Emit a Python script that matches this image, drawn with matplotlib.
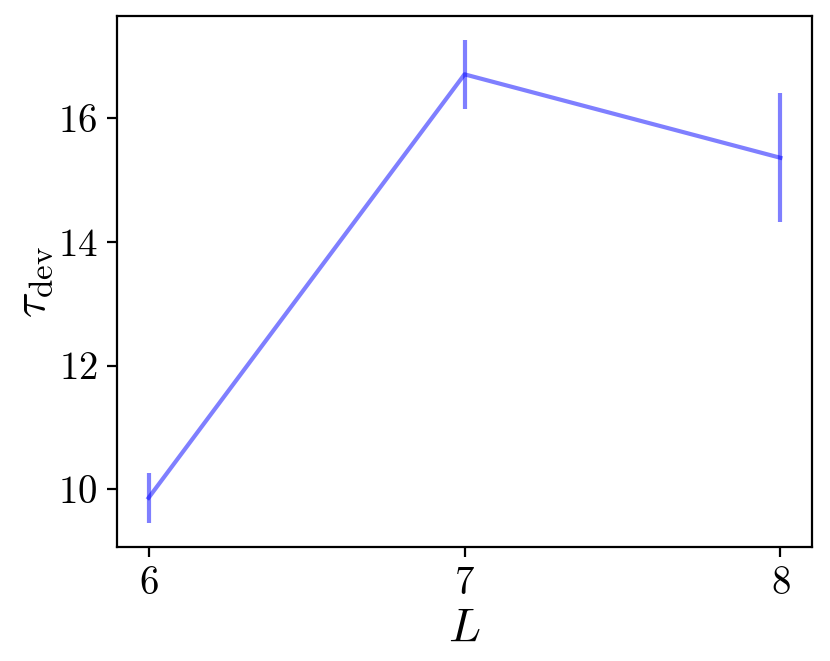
import matplotlib
matplotlib.use("Agg")
import matplotlib.pyplot as plt

plt.rcParams['font.family'] = 'serif'
plt.rcParams['font.serif'] = ['cmr10', 'DejaVu Serif']
plt.rcParams['mathtext.fontset'] = 'cm'
plt.rcParams['axes.formatter.use_mathtext'] = True
plt.rcParams['font.size'] = 14

L = [6, 7, 8]
tau_dev = [9.86, 16.71, 15.36]
tau_err = [0.405, 0.553, 1.04]

fig = plt.figure(figsize=(4.15, 3.305), dpi=200)
ax = fig.add_axes([117/830, 1-547/661, (812-117)/830, (547-16)/661])
ax.errorbar(L, tau_dev, yerr=tau_err, color='blue', alpha=0.5, lw=1.5)
ax.set_xticks(L)
ax.set_yticks([10, 12, 14, 16])
ax.set_xlabel(r'$L$', fontsize=17, labelpad=2)
ax.set_ylabel(r'$\tau_{\rm dev}$', fontsize=17, labelpad=1)
fig.savefig('out.png', dpi=200)
